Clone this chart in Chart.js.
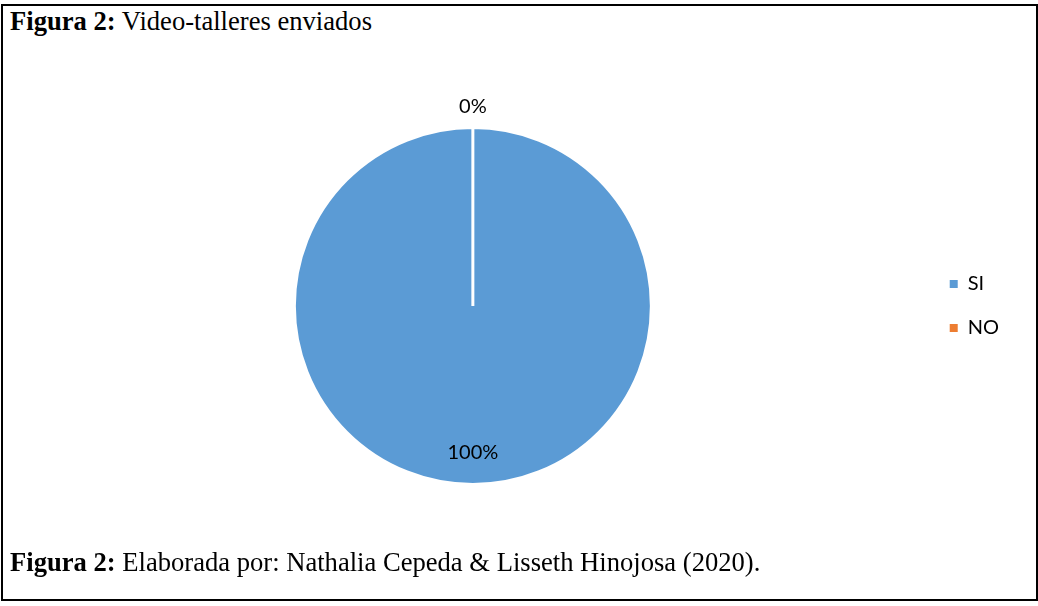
<!DOCTYPE html>
<html>
<head>
<meta charset="utf-8">
<script src="https://cdn.jsdelivr.net/npm/chart.js@4.4.1/dist/chart.umd.min.js"></script>
<style>
  html, body { margin: 0; padding: 0; background: #fff; }
  #wrap { position: relative; width: 1038px; height: 606px; overflow: hidden; }
  #frame {
    position: absolute; left: 1px; top: 4px; width: 1037px; height: 597px;
    border: 2px solid #000; box-sizing: border-box;
  }
  .cap {
    position: absolute; left: 10px;
    font-family: "Liberation Serif", "Times New Roman", serif;
    font-size: 26.6px; line-height: 26px; color: #000; white-space: nowrap;
  }
  #title { top: 8px; }
  #footer { top: 549px; }
  #chart { position: absolute; left: 0; top: 0; }
</style>
</head>
<body>
<div id="wrap">
  <div id="frame"></div>
  <div class="cap" id="title"><b>Figura 2:</b> Video-talleres enviados</div>
  <canvas id="chart" width="1038" height="606"></canvas>
  <div class="cap" id="footer"><b>Figura 2:</b> Elaborada por: Nathalia Cepeda &amp; Lisseth Hinojosa (2020).</div>
</div>
<script>
// Data
const categories = ['SI', 'NO'];
const values = [100, 0];
const sliceColors = ['#5B9BD5', '#ED7D31'];

const labelFont = 'Lato, "Open Sans", sans-serif';

// Draw percentage labels like Excel's "best fit"
const percentLabels = {
  id: 'percentLabels',
  afterDatasetsDraw(chart) {
    const ctx = chart.ctx;
    const meta = chart.getDatasetMeta(0);
    const total = values.reduce((a, b) => a + b, 0);
    ctx.save();
    ctx.font = '20px ' + labelFont;
    ctx.fillStyle = '#000';
    ctx.textAlign = 'center';
    ctx.textBaseline = 'middle';
    meta.data.forEach((arc, i) => {
      const p = arc.getProps(['x', 'y', 'startAngle', 'endAngle', 'outerRadius'], true);
      const mid = (p.startAngle + p.endAngle) / 2;
      const share = total > 0 ? values[i] / total : 0;
      // small slices get their label outside the pie
      const r = share < 0.05 ? p.outerRadius + 21 : p.outerRadius * 0.82;
      const txt = Math.round(share * 100) + '%';
      ctx.fillText(txt, p.x + Math.cos(mid) * r, p.y + Math.sin(mid) * r);
    });
    ctx.restore();
  }
};

const defaultLabels = Chart.controllers.pie.overrides.plugins.legend.labels.generateLabels;

const ctx = document.getElementById('chart').getContext('2d');
new Chart(ctx, {
  type: 'pie',
  data: {
    labels: categories,
    datasets: [{
      data: values,
      backgroundColor: sliceColors,
      borderColor: '#ffffff',
      borderWidth: 3
    }]
  },
  options: {
    responsive: false,
    animation: false,
    events: [],
    layout: {
      padding: { left: 20, right: 29, top: 126, bottom: 120 }
    },
    plugins: {
      legend: {
        position: 'right',
        labels: {
          boxWidth: 8,
          boxHeight: 8,
          padding: 24,
          color: '#000',
          font: { family: labelFont, size: 20 },
          // no white outline on the legend squares
          generateLabels(chart) {
            return defaultLabels(chart).map(item => ({ ...item, lineWidth: 0 }));
          }
        }
      },
      tooltip: { enabled: false }
    }
  },
  plugins: [percentLabels]
});
</script>
</body>
</html>
